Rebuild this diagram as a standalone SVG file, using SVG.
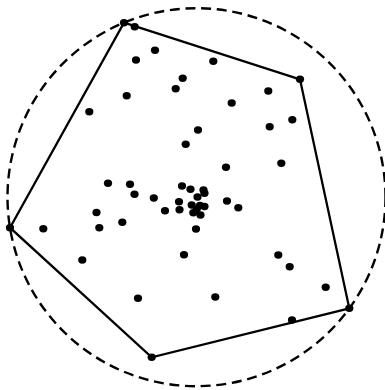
<svg xmlns="http://www.w3.org/2000/svg" width="385" height="390" viewBox="0 0 385 390">
<style>
.pt{fill:#000}
.hull{fill:none;stroke:#000;stroke-width:2.3}
.circ{fill:none;stroke:#000;stroke-width:2.4;stroke-dasharray:10 5.7}
</style>
<rect width="385" height="390" fill="#fff"/>
<g id="connectors">
<circle class="circ" cx="196.5" cy="197.2" r="189"/>
<polygon class="hull" points="124,22.7 300,79.3 349.3,308.3 151.7,357.3 10,227.7"/>
</g>
<g id="points" class="pt">
<ellipse cx="124" cy="22.7" rx="4.1" ry="3.7"/>
<ellipse cx="134.7" cy="26.7" rx="4.1" ry="3.7"/>
<ellipse cx="155" cy="50.3" rx="4.1" ry="3.7"/>
<ellipse cx="136" cy="60" rx="4.1" ry="3.7"/>
<ellipse cx="182.7" cy="78.3" rx="4.1" ry="3.7"/>
<ellipse cx="175.7" cy="88.7" rx="4.1" ry="3.7"/>
<ellipse cx="126.7" cy="95.7" rx="4.1" ry="3.7"/>
<ellipse cx="89.3" cy="111.7" rx="4.1" ry="3.7"/>
<ellipse cx="198" cy="130" rx="4.1" ry="3.7"/>
<ellipse cx="185.7" cy="144.3" rx="4.1" ry="3.7"/>
<ellipse cx="108" cy="183.3" rx="4.1" ry="3.7"/>
<ellipse cx="130" cy="184.3" rx="4.1" ry="3.7"/>
<ellipse cx="134.5" cy="194.2" rx="4.1" ry="3.7"/>
<ellipse cx="182" cy="186" rx="4.1" ry="3.7"/>
<ellipse cx="190.5" cy="189.3" rx="4.1" ry="3.7"/>
<ellipse cx="153.8" cy="198" rx="4.1" ry="3.7"/>
<ellipse cx="213.3" cy="61.3" rx="4.1" ry="3.7"/>
<ellipse cx="300" cy="79.3" rx="4.1" ry="3.7"/>
<ellipse cx="268.3" cy="91" rx="4.1" ry="3.7"/>
<ellipse cx="231.7" cy="103" rx="4.1" ry="3.7"/>
<ellipse cx="292.3" cy="119.7" rx="4.1" ry="3.7"/>
<ellipse cx="269.7" cy="126.7" rx="4.1" ry="3.7"/>
<ellipse cx="281.3" cy="163.3" rx="4.1" ry="3.7"/>
<ellipse cx="226" cy="167.3" rx="4.1" ry="3.7"/>
<ellipse cx="203.5" cy="190" rx="4.1" ry="3.7"/>
<ellipse cx="204.5" cy="193.3" rx="4.1" ry="3.7"/>
<ellipse cx="197.5" cy="197" rx="4.1" ry="3.7"/>
<ellipse cx="179" cy="201.7" rx="4.1" ry="3.7"/>
<ellipse cx="191.7" cy="205" rx="4.1" ry="3.7"/>
<ellipse cx="200" cy="205.5" rx="4.1" ry="3.7"/>
<ellipse cx="204.5" cy="206.5" rx="4.1" ry="3.7"/>
<ellipse cx="196.7" cy="209.3" rx="4.1" ry="3.7"/>
<ellipse cx="165" cy="210.7" rx="4.1" ry="3.7"/>
<ellipse cx="179.5" cy="209.7" rx="4.1" ry="3.7"/>
<ellipse cx="193.3" cy="212.7" rx="4.1" ry="3.7"/>
<ellipse cx="200.5" cy="215" rx="4.1" ry="3.7"/>
<ellipse cx="10" cy="227.7" rx="4.1" ry="3.7"/>
<ellipse cx="43.3" cy="228.7" rx="4.1" ry="3.7"/>
<ellipse cx="96.5" cy="212.5" rx="4.1" ry="3.7"/>
<ellipse cx="99.3" cy="227.7" rx="4.1" ry="3.7"/>
<ellipse cx="122.3" cy="222.3" rx="4.1" ry="3.7"/>
<ellipse cx="196" cy="229" rx="4.1" ry="3.7"/>
<ellipse cx="82.3" cy="260" rx="4.1" ry="3.7"/>
<ellipse cx="184" cy="254.7" rx="4.1" ry="3.7"/>
<ellipse cx="138" cy="298.3" rx="4.1" ry="3.7"/>
<ellipse cx="151.7" cy="357.3" rx="4.1" ry="3.7"/>
<ellipse cx="227" cy="201" rx="4.1" ry="3.7"/>
<ellipse cx="238.3" cy="207.7" rx="4.1" ry="3.7"/>
<ellipse cx="278.3" cy="255" rx="4.1" ry="3.7"/>
<ellipse cx="289.7" cy="266.7" rx="4.1" ry="3.7"/>
<ellipse cx="325.7" cy="287.3" rx="4.1" ry="3.7"/>
<ellipse cx="215.3" cy="297" rx="4.1" ry="3.7"/>
<ellipse cx="292" cy="320" rx="4.1" ry="3.7"/>
<ellipse cx="349.3" cy="308.3" rx="4.1" ry="3.7"/>
</g>
</svg>
